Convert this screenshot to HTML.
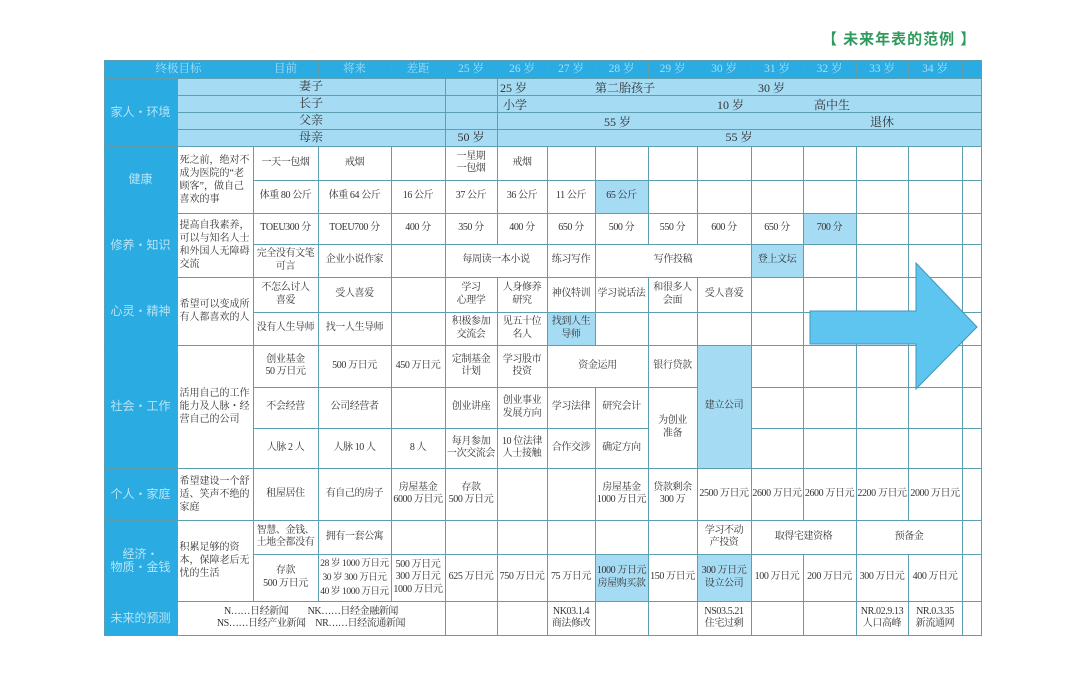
<!DOCTYPE html>
<html><head><meta charset="utf-8"><style>
body{margin:0;width:1080px;height:674px;background:#fff;position:relative;overflow:hidden;font-family:"Liberation Serif","Noto Serif CJK SC",serif;}
.c{position:absolute;box-sizing:border-box;border:1px solid #5c9fb0;margin:-0.5px;display:flex;align-items:center;justify-content:center;text-align:center;font-size:10px;line-height:12.5px;color:#333;background:#fff;white-space:pre;letter-spacing:-0.4px;overflow:hidden;}
.lab{background:#2aabe2;color:#b5e4f7;font-size:12px;font-family:"Liberation Sans","Noto Sans CJK SC",sans-serif;white-space:pre-line;letter-spacing:0;}
.hd{background:#2aabe2;color:#a9def5;font-size:11.5px;letter-spacing:0;}
.fam{background:#a6dbf4;font-size:12px;letter-spacing:0;}
.hl{background:#a6dbf4;}
.dl{justify-content:flex-start;text-align:left;padding-left:2px;white-space:normal;letter-spacing:0;line-height:13px;}
.t{position:absolute;font-size:12px;color:#333;}
#title{position:absolute;left:822px;top:28px;font-size:15px;color:#2e9a5c;font-family:"Liberation Sans","Noto Sans CJK SC",sans-serif;font-weight:bold;letter-spacing:1px;}
</style></head><body>
<div id="title">【 未来年表的范例 】</div>
<div id="tbl"></div>
<svg width="1080" height="674" style="position:absolute;left:0;top:0;pointer-events:none">
<polygon points="810,311 916,311 916,263 977,327 916,389 916,344 810,344" fill="#5ec4f0" stroke="#3f97b8" stroke-width="1"/>
</svg>
<script>
const C=[104,177,253,318,391,445,497,547,595,648,697,751,803,856,908,962,981];
const R=[60,78,95,112,129,146,180,213,244,277,312,345,387,428,468,520,554,601,635];
const headers=["目前","将来","差距","25 岁","26 岁","27 岁","28 岁","29 岁","30 岁","31 岁","32 岁","33 岁","34 岁",""];
const cells=[
[0,2,0,1,"终极目标","hd"],
[0,1,1,5,"家人・环境","lab"],
[1,5,1,2,"妻子","fam"],[5,6,1,2,"","fam"],[6,16,1,2,"","fam"],
[1,5,2,3,"长子","fam"],[5,6,2,3,"","fam"],[6,16,2,3,"","fam"],
[1,5,3,4,"父亲","fam"],[5,6,3,4,"","fam"],[6,16,3,4,"","fam"],
[1,5,4,5,"母亲","fam"],[5,6,4,5,"50 岁","fam"],[6,16,4,5,"55 岁","fam"],
[0,1,5,7,"健康","lab"],[1,2,5,7,"死之前，绝对不成为医院的“老顾客”，做自己喜欢的事","dl"],
[0,1,7,9,"修养・知识","lab"],[1,2,7,9,"提高自我素养，可以与知名人士和外国人无障碍交流","dl"],
[0,1,9,11,"心灵・精神","lab"],[1,2,9,11,"希望可以变成所有人都喜欢的人","dl"],
[0,1,11,14,"社会・工作","lab"],[1,2,11,14,"活用自己的工作能力及人脉・经营自己的公司","dl"],
[0,1,14,15,"个人・家庭","lab"],[1,2,14,15,"希望建设一个舒适、笑声不绝的家庭","dl"],
[0,1,15,17,"经济・\n物质・金钱","lab"],[1,2,15,17,"积累足够的资本，保障老后无忧的生活","dl"],
[0,1,17,18,"未来的预测","lab"],[1,5,17,18,"N……日经新闻　　NK……日经金融新闻\nNS……日经产业新闻　NR……日经流通新闻",""],
[5,7,8,9,"每周读一本小说",""],[7,8,8,9,"练习写作",""],[8,11,8,9,"写作投稿",""],[11,12,8,9,"登上文坛","hl"],
[7,9,11,12,"资金运用",""],[9,10,11,12,"银行贷款",""],[10,11,11,14,"建立公司","hl"],[9,10,12,14,"为创业\n准备",""],
[11,13,15,16,"取得宅建资格",""],[13,15,15,16,"预备金",""]
];
const rowVals={
5:["一天一包烟","戒烟","","一星期\n一包烟","戒烟","","","","","","","","",""],
6:["体重 80 公斤","体重 64 公斤","16 公斤","37 公斤","36 公斤","11 公斤","65 公斤*","","","","","","",""],
7:["TOEU300 分","TOEU700 分","400 分","350 分","400 分","650 分","500 分","550 分","600 分","650 分","700 分*","","",""],
8:["完全没有文笔\n可言","企业小说作家","",null,null,null,null,null,null,null,"","","",""],
9:["不怎么讨人\n喜爱","受人喜爱","","学习\n心理学","人身修养\n研究","神仪特训","学习说话法","和很多人\n会面","受人喜爱","","","","",""],
10:["没有人生导师","找一人生导师","","积极参加\n交流会","见五十位\n名人","找到人生\n导师*","","","","","","","",""],
11:["创业基金\n50 万日元","500 万日元","450 万日元","定制基金\n计划","学习股市\n投资",null,null,null,null,"","","","",""],
12:["不会经营","公司经营者","","创业讲座","创业事业\n发展方向","学习法律","研究会计",null,null,"","","","",""],
13:["人脉 2 人","人脉 10 人","8 人","每月参加\n一次交流会","10 位法律\n人士接触","合作交涉","确定方向",null,null,"","","","",""],
14:["租屋居住","有自己的房子","房屋基金\n6000 万日元","存款\n500 万日元","","","房屋基金\n1000 万日元","贷款剩余\n300 万","2500 万日元","2600 万日元","2600 万日元","2200 万日元","2000 万日元",""],
15:["智慧、金钱、\n土地全都没有","拥有一套公寓","","","","","","","学习不动\n产投资",null,null,null,null,""],
16:["存款\n500 万日元","28 岁 1000 万日元\n30 岁 300 万日元\n40 岁 1000 万日元","500 万日元\n300 万日元\n1000 万日元","625 万日元","750 万日元","75 万日元","1000 万日元\n房屋购买款*","150 万日元","300 万日元\n设立公司*","100 万日元","200 万日元","300 万日元","400 万日元",""],
17:[null,null,null,"","","NK03.1.4\n商法修改","","","NS03.5.21\n住宅过剩","","","NR.02.9.13\n人口高峰","NR.0.3.35\n新流通网",""]
};
const famTexts=[["25 岁",1,500],["第二胎孩子",1,595],["30 岁",1,758],["小学",2,503],["10 岁",2,717],["高中生",2,814],["55 岁",3,604],["退休",3,870]];
const tbl=document.getElementById('tbl');
function mk(c0,c1,r0,r1,txt,cls){
  const d=document.createElement('div');
  d.className='c '+(cls||'');
  d.style.left=C[c0]+'px';d.style.top=R[r0]+'px';
  d.style.width=(C[c1]-C[c0]+1)+'px';d.style.height=(R[r1]-R[r0]+1)+'px';
  d.textContent=txt;
  tbl.appendChild(d);
  return d;
}
for(let i=0;i<headers.length;i++){
  const d=mk(i+2,i+3,0,1,headers[i],'hd');
  
  
}
cells.forEach(function(a){
  const d=mk(a[0],a[1],a[2],a[3],a[4],a[5]);
  
  
});
Object.keys(rowVals).forEach(function(r){
  r=+r;
  rowVals[r].forEach(function(v,i){
    if(v===null)return;
    let cls='';
    if(v.endsWith('*')){v=v.slice(0,-1);cls='hl';}
    const d=mk(i+2,i+3,r,r+1,v,cls);
    
    
    if(v.length>9&&v.indexOf('\n')<0){d.style.fontSize='9px';d.style.letterSpacing='-0.6px';}
    if(v.indexOf('28 岁')===0){d.style.fontSize='9.5px';d.style.lineHeight='14px';}
  });
});
famTexts.forEach(function(f){
  const s=document.createElement('div');
  s.className='t';
  s.textContent=f[0];
  s.style.left=f[2]+'px';
  s.style.top=(R[f[1]]+1)+'px';
  
  
  tbl.appendChild(s);
});
</script>
</body></html>
